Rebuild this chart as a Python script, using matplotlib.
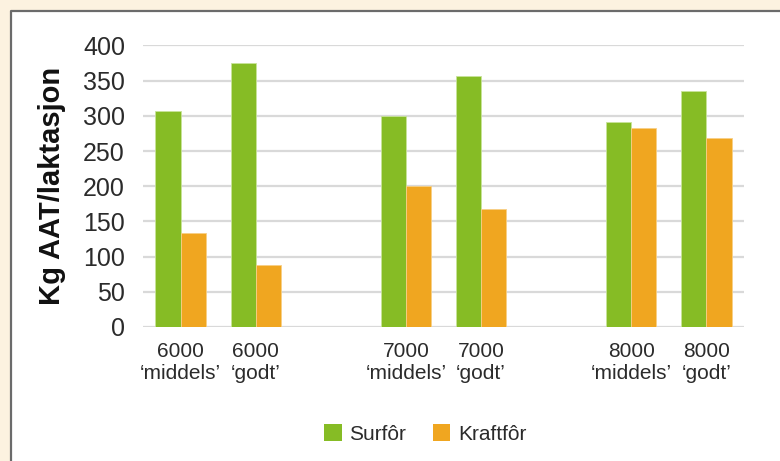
import numpy as np
import matplotlib
matplotlib.use("Agg")
from matplotlib import pyplot as plt
from matplotlib.patches import Rectangle, Patch
from matplotlib.lines import Line2D

plt.rcParams['font.family'] = ['Liberation Sans', 'DejaVu Sans']

groups = ["6000", "7000", "8000"]
levels = ["‘middels’", "‘godt’"]
surfor = [307, 375, 300, 356, 292, 335]
kraftfor = [133, 88, 201, 168, 283, 269]
yticks = [0, 50, 100, 150, 200, 250, 300, 350, 400]

green = "#86bc25"
orange = "#f0a620"
textcol = "#2b2b2b"

fig = plt.figure(figsize=(7.8, 4.61), dpi=100)
fig.patch.set_facecolor("#fcf2e0")
# white panel with grey border on top and left only
x0, y1 = 11/780, 1 - 11/461
fig.patches.append(Rectangle((x0, -0.1), 1.2, y1 + 0.1, transform=fig.transFigure,
                             facecolor="white", edgecolor="none", zorder=-5))
fig.lines.append(Line2D([x0, x0, 1.2], [-0.1, y1, y1], transform=fig.transFigure,
                        color="#6b6b6b", linewidth=1.6, zorder=-4))

ax = fig.add_axes([143/780, 1 - 327/461, (744 - 143)/780, (327 - 45.5)/461])
ax.set_facecolor("none")
ax.set_zorder(2)

x = []
labels = []
for i, g in enumerate(groups):
    for j, lv in enumerate(levels):
        x.append(i*3 + j)
        labels.append(g + "\n" + lv)
x = np.array(x)
w = 0.335

ax.bar(x - w/2, surfor, width=w, color=green, edgecolor="#c8e39a", linewidth=0.6, zorder=3)
ax.bar(x + w/2, kraftfor, width=w, color=orange, edgecolor="#f7cf86", linewidth=0.6, zorder=3)

ax.set_xlim(-0.5, 7.5)
ax.set_ylim(0, 400)
ax.set_yticks(yticks)
ax.set_yticklabels([str(v) for v in yticks], fontsize=18, color=textcol)
ax.set_xticks(x)
ax.set_xticklabels(labels, fontsize=15, color=textcol, linespacing=1.2)
ax.tick_params(axis='both', length=0)
ax.tick_params(axis='y', pad=13)
ax.tick_params(axis='x', pad=11)
for s in ax.spines.values():
    s.set_visible(False)
ax.grid(axis='y', color="#d9d9d9", linewidth=1.6, zorder=0)
ax.set_axisbelow(True)

ax.set_ylabel("Kg AAT/laktasjon", fontsize=21, fontweight='bold', color="#111111", labelpad=12)

handles = [Patch(facecolor=green), Patch(facecolor=orange)]
fig.legend(handles, ["Surfôr", "Kraftfôr"], loc='center', bbox_to_anchor=(425/780, 1 - 434/461),
           ncol=2, frameon=False, fontsize=15, handlelength=0.85, handleheight=0.85,
           handletextpad=0.35, columnspacing=1.3, labelcolor=textcol)

fig.savefig("out.png", dpi=100, facecolor=fig.get_facecolor())
